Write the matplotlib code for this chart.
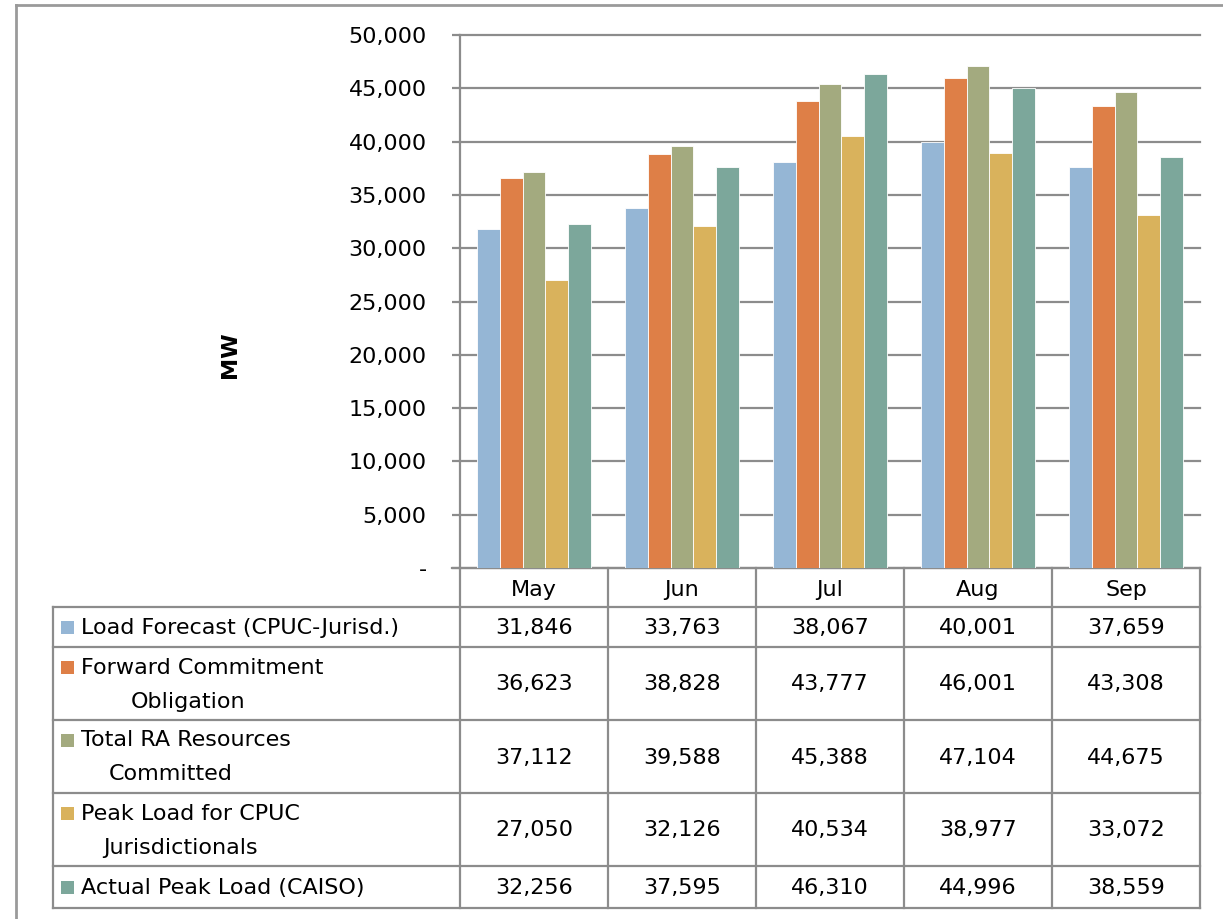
import matplotlib
matplotlib.use("Agg")
import matplotlib.pyplot as plt
from matplotlib.patches import Rectangle
from matplotlib.lines import Line2D

months = ["May", "Jun", "Jul", "Aug", "Sep"]
load_forecast = [31846, 33763, 38067, 40001, 37659]
forward_commitment = [36623, 38828, 43777, 46001, 43308]
total_ra = [37112, 39588, 45388, 47104, 44675]
peak_cpuc = [27050, 32126, 40534, 38977, 33072]
actual_peak = [32256, 37595, 46310, 44996, 38559]

series_names = [
    ["Load Forecast (CPUC-Jurisd.)"],
    ["Forward Commitment", "Obligation"],
    ["Total RA Resources", "Committed"],
    ["Peak Load for CPUC", "Jurisdictionals"],
    ["Actual Peak Load (CAISO)"],
]
series_values = [load_forecast, forward_commitment, total_ra, peak_cpuc, actual_peak]
colors = ["#95B6D5", "#DE7F47", "#A3AA7F", "#D9B25C", "#7CA79B"]
yticks = [0, 5000, 10000, 15000, 20000, 25000, 30000, 35000, 40000, 45000, 50000]

W, H = 1223, 919
plt.rcParams['font.family'] = ['DejaVu Sans']
fig = plt.figure(figsize=(W / 100, H / 100), dpi=100)

grid_c = "#8C8C8C"
fs = 16

# Table / frame axes in pixel coords
tab = fig.add_axes([0, 0, 1, 1])
tab.set_xlim(0, W)
tab.set_ylim(H, 0)
tab.axis("off")

# chart area border
tab.add_line(Line2D([16, 16], [5, H + 5], color="#9A9A9A", lw=2))
tab.add_line(Line2D([16, W + 5], [5, 5], color="#9A9A9A", lw=2))

# plot axes
L, R, T, B = 460, 1200, 35, 568
ax = fig.add_axes([L / W, 1 - B / H, (R - L) / W, (B - T) / H])
n = len(months)
bw = 0.153
for j, (vals, c) in enumerate(zip(series_values, colors)):
    xs = [i + (j - 2) * bw for i in range(n)]
    ax.bar(xs, vals, width=bw, color=c, edgecolor="white", linewidth=0.6, zorder=3)
ax.set_xlim(-0.5, n - 0.5)
ax.set_ylim(0, 50000)
ax.set_yticks(yticks)
ax.set_yticklabels(["-" if v == 0 else f"{v:,}" for v in yticks], fontsize=fs)
ax.set_xticks([])
ax.yaxis.grid(True, color=grid_c, lw=1.6, zorder=0)
for gl in ax.yaxis.get_gridlines():
    gl.set_clip_on(False)
ax.tick_params(axis="y", length=6, width=1.6, color=grid_c, pad=18)
for s in ["top", "right", "bottom"]:
    ax.spines[s].set_visible(False)
ax.spines["left"].set_color(grid_c)
ax.spines["left"].set_linewidth(1.6)
ax.set_facecolor("none")

tab.text(230, 355, "MW", rotation=90, ha="center", va="center", fontsize=16, fontweight="bold")

# Table geometry
col_x = [460, 608, 756, 904, 1052, 1200]
row_y = [568, 607, 647, 720, 793, 866, 908]
left_x = 53
lc = "#8C8C8C"
lw = 1.6
for x in col_x:
    tab.add_line(Line2D([x, x], [row_y[0], row_y[-1]], color=lc, lw=lw))
tab.add_line(Line2D([left_x, left_x], [row_y[1], row_y[-1]], color=lc, lw=lw))
tab.add_line(Line2D([L - 8, R], [row_y[0], row_y[0]], color=lc, lw=lw))
for y in row_y[1:]:
    tab.add_line(Line2D([left_x, R], [y, y], color=lc, lw=lw))

for i, m in enumerate(months):
    cx = (col_x[i] + col_x[i + 1]) / 2
    tab.text(cx, (row_y[0] + row_y[1]) / 2 + 2, m, ha="center", va="center", fontsize=fs)

second_centers = [None, 188, 171, 180, None]
for r in range(5):
    y0, y1 = row_y[r + 1], row_y[r + 2]
    cy = (y0 + y1) / 2
    names = series_names[r]
    if len(names) == 1:
        ty = [cy]
    else:
        ty = [cy - 17, cy + 17]
    tab.add_patch(Rectangle((61, ty[0] - 6), 13, 13, color=colors[r], lw=0))
    tab.text(81, ty[0] + 1, names[0], ha="left", va="center", fontsize=fs)
    if len(names) > 1:
        tab.text(second_centers[r], ty[1] + 1, names[1], ha="center", va="center", fontsize=fs)
    for i in range(n):
        cx = (col_x[i] + col_x[i + 1]) / 2
        tab.text(cx, cy + 1, f"{series_values[r][i]:,}", ha="center", va="center", fontsize=fs)

fig.savefig("out.png", dpi=100)
